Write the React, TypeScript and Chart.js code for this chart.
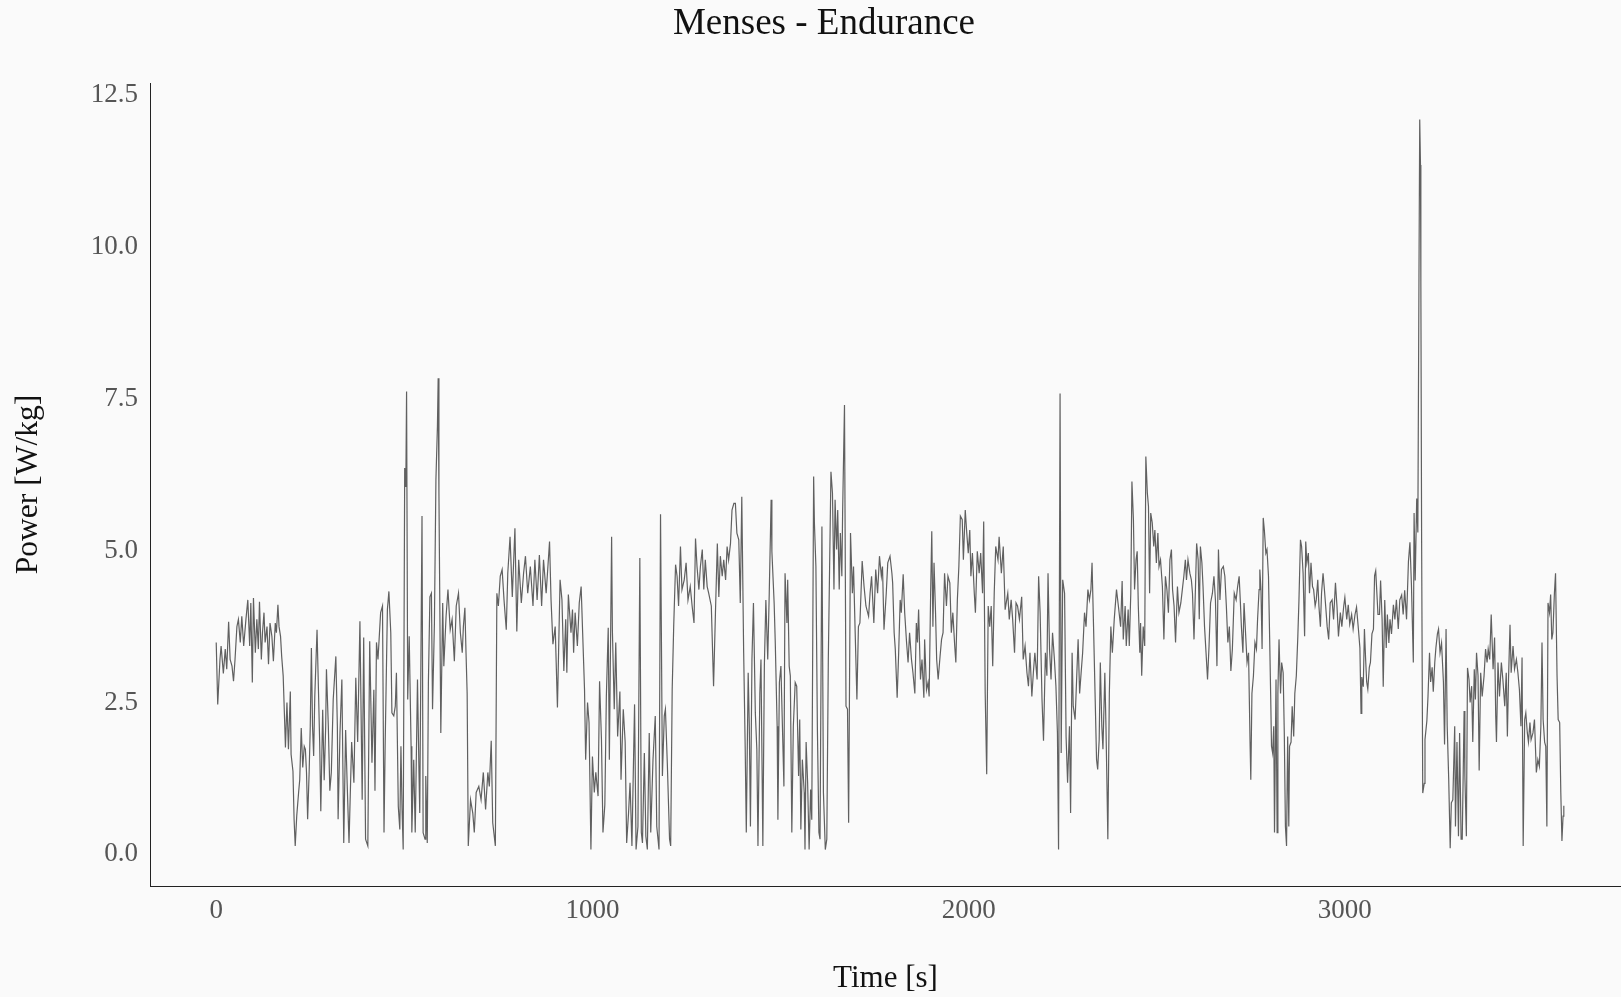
import { useEffect, useRef } from "react";
import { Chart, registerables } from "chart.js";

Chart.register(...registerables);

const TITLE = "Menses - Endurance";
const X_LABEL = "Time [s]";
const Y_LABEL = "Power [W/kg]";

const X_TICKS = [0, 1000, 2000, 3000];
const Y_TICKS = [0, 2.5, 5, 7.5, 10, 12.5];

const TIME_S = [
  0, 4, 10, 13, 19, 24, 28, 33, 37, 42,
  46, 50, 55, 59, 64, 68, 73, 79, 84, 89,
  92, 96, 99, 104, 108, 112, 115, 120, 123, 127,
  130, 135, 139, 143, 148, 152, 157, 160, 164, 167,
  171, 174, 178, 182, 184, 188, 192, 197, 199, 204,
  207, 210, 214, 219, 222, 226, 230, 234, 237, 240,
  243, 247, 250, 253, 256, 259, 262, 268, 272, 275,
  278, 283, 287, 291, 293, 298, 302, 306, 311, 318,
  322, 324, 329, 334, 339, 344, 348, 353, 360, 366,
  371, 376, 382, 388, 392, 397, 403, 408, 414, 419,
  422, 426, 430, 433, 437, 442, 446, 449, 455, 459,
  464, 467, 472, 476, 479, 484, 488, 491, 494, 497,
  501, 504, 506, 509, 513, 518, 520, 525, 529, 535,
  539, 541, 547, 550, 555, 557, 561, 564, 568, 572,
  575, 580, 584, 588, 590, 592, 597, 602, 605, 611,
  616, 622, 627, 633, 638, 644, 649, 654, 657, 661,
  664, 667, 670, 676, 682, 686, 691, 698, 704, 710,
  716, 722, 726, 731, 735, 742, 746, 750, 755, 760,
  765, 771, 775, 781, 787, 794, 799, 804, 811, 817,
  822, 828, 835, 842, 847, 853, 859, 865, 870, 877,
  886, 890, 895, 901, 907, 910, 914, 919, 924, 929,
  932, 936, 943, 947, 950, 954, 960, 965, 970, 974,
  979, 982, 987, 991, 996, 1000, 1005, 1009, 1015, 1019,
  1024, 1028, 1033, 1037, 1042, 1045, 1051, 1053, 1058, 1062,
  1067, 1073, 1076, 1082, 1087, 1091, 1096, 1100, 1105, 1112,
  1116, 1121, 1126, 1130, 1133, 1138, 1142, 1146, 1151, 1155,
  1161, 1167, 1171, 1177, 1181, 1186, 1191, 1194, 1199, 1205,
  1208, 1212, 1216, 1221, 1225, 1229, 1234, 1238, 1244, 1249,
  1254, 1260, 1265, 1270, 1274, 1278, 1283, 1287, 1292, 1296,
  1300, 1305, 1309, 1316, 1322, 1327, 1332, 1336, 1340, 1345,
  1349, 1354, 1358, 1362, 1367, 1371, 1376, 1380, 1384, 1389,
  1393, 1397, 1402, 1406, 1409, 1414, 1417, 1420, 1424, 1428,
  1433, 1437, 1440, 1445, 1448, 1453, 1457, 1461, 1466, 1470,
  1475, 1477, 1483, 1486, 1491, 1493, 1497, 1501, 1505, 1509,
  1512, 1517, 1519, 1523, 1526, 1530, 1534, 1539, 1543, 1548,
  1551, 1554, 1558, 1563, 1565, 1568, 1572, 1576, 1580, 1583,
  1588, 1590, 1594, 1598, 1602, 1605, 1610, 1614, 1619, 1623,
  1627, 1634, 1638, 1642, 1645, 1649, 1652, 1656, 1659, 1663,
  1665, 1670, 1674, 1678, 1681, 1686, 1691, 1694, 1698, 1703,
  1707, 1711, 1717, 1722, 1727, 1734, 1738, 1742, 1748, 1753,
  1758, 1763, 1768, 1771, 1775, 1781, 1785, 1791, 1796, 1798,
  1802, 1805, 1810, 1814, 1818, 1821, 1826, 1830, 1835, 1839,
  1843, 1848, 1852, 1857, 1861, 1864, 1867, 1872, 1876, 1881,
  1883, 1888, 1892, 1895, 1899, 1902, 1905, 1908, 1912, 1915,
  1919, 1924, 1928, 1932, 1936, 1941, 1945, 1950, 1954, 1958,
  1963, 1966, 1970, 1974, 1978, 1983, 1986, 1991, 1995, 1999,
  2003, 2006, 2010, 2015, 2018, 2023, 2028, 2032, 2037, 2040,
  2044, 2048, 2052, 2056, 2060, 2064, 2068, 2072, 2078, 2081,
  2087, 2092, 2097, 2104, 2108, 2113, 2117, 2122, 2126, 2130,
  2135, 2141, 2145, 2150, 2155, 2159, 2163, 2168, 2172, 2176,
  2182, 2186, 2190, 2195, 2199, 2204, 2208, 2211, 2215, 2219,
  2223, 2228, 2232, 2236, 2239, 2243, 2246, 2250, 2255, 2259,
  2263, 2268, 2271, 2275, 2278, 2283, 2287, 2291, 2295, 2299,
  2303, 2308, 2312, 2317, 2321, 2325, 2328, 2332, 2336, 2340,
  2343, 2347, 2350, 2354, 2357, 2362, 2365, 2368, 2370, 2374,
  2378, 2382, 2387, 2393, 2398, 2404, 2408, 2411, 2416, 2419,
  2424, 2427, 2431, 2434, 2438, 2441, 2445, 2448, 2451, 2455,
  2457, 2460, 2464, 2468, 2471, 2475, 2478, 2481, 2484, 2488,
  2492, 2495, 2499, 2503, 2506, 2510, 2515, 2519, 2523, 2527,
  2531, 2535, 2539, 2542, 2546, 2550, 2555, 2559, 2564, 2568,
  2572, 2576, 2579, 2583, 2588, 2592, 2595, 2599, 2603, 2606,
  2610, 2613, 2616, 2620, 2623, 2627, 2631, 2635, 2639, 2643,
  2648, 2652, 2656, 2660, 2664, 2668, 2672, 2677, 2681, 2685,
  2689, 2693, 2697, 2701, 2706, 2711, 2715, 2719, 2722, 2725,
  2729, 2732, 2736, 2740, 2744, 2748, 2750, 2753, 2757, 2761,
  2765, 2768, 2772, 2774, 2777, 2780, 2783, 2786, 2790, 2793,
  2797, 2800, 2803, 2805, 2808, 2811, 2813, 2817, 2820, 2822,
  2825, 2829, 2832, 2836, 2839, 2842, 2845, 2848, 2851, 2853,
  2857, 2860, 2864, 2867, 2871, 2875, 2878, 2882, 2885, 2889,
  2893, 2896, 2899, 2903, 2906, 2910, 2914, 2917, 2921, 2924,
  2928, 2931, 2935, 2938, 2942, 2945, 2949, 2953, 2957, 2961,
  2966, 2970, 2975, 2979, 2983, 2988, 2992, 2997, 3000, 3005,
  3009, 3013, 3018, 3022, 3027, 3031, 3036, 3040, 3043, 3045,
  3049, 3052, 3055, 3058, 3061, 3065, 3068, 3072, 3076, 3079,
  3082, 3084, 3088, 3092, 3095, 3099, 3102, 3106, 3110, 3113,
  3117, 3120, 3124, 3129, 3133, 3137, 3142, 3146, 3151, 3155,
  3159, 3164, 3169, 3173, 3177, 3182, 3184, 3187, 3191, 3194,
  3197, 3199, 3201, 3202, 3204, 3207, 3211, 3213, 3218, 3221,
  3225, 3228, 3232, 3235, 3239, 3242, 3246, 3249, 3253, 3257,
  3262, 3265, 3269, 3272, 3276, 3280, 3283, 3287, 3292, 3294,
  3298, 3302, 3305, 3309, 3312, 3317, 3319, 3323, 3326, 3330,
  3333, 3337, 3340, 3344, 3347, 3350, 3354, 3357, 3361, 3365,
  3370, 3374, 3378, 3381, 3385, 3389, 3394, 3398, 3401, 3403,
  3407, 3411, 3416, 3420, 3425, 3429, 3432, 3435, 3439, 3442,
  3447, 3451, 3456, 3460, 3464, 3468, 3471, 3474, 3478, 3481,
  3485, 3488, 3492, 3495, 3500, 3504, 3509, 3513, 3517, 3521,
  3524, 3527, 3531, 3534, 3537, 3540, 3544, 3547, 3550, 3553,
  3557, 3560, 3564, 3567, 3571, 3574, 3577, 3580, 3582,
];

const POWER_WKG = [
  3.44, 2.42, 3.16, 3.38, 2.93, 3.33, 3.0, 3.78, 3.16, 3.05,
  2.8, 3.16, 3.7, 3.82, 3.44, 3.87, 3.38, 3.82, 4.14, 3.38,
  4.09, 2.78, 4.17, 3.27, 3.82, 3.33, 4.11, 3.16, 3.6, 3.93,
  3.44, 3.7, 3.08, 3.76, 3.54, 3.13, 3.76, 3.6, 4.06, 3.7,
  3.54, 3.21, 2.89, 2.12, 1.71, 2.45, 1.68, 2.63, 1.6, 1.32,
  0.53, 0.09, 0.58, 0.97, 1.18, 2.03, 1.38, 1.73, 1.68, 1.3,
  0.53, 1.3, 2.06, 3.35, 2.06, 1.57, 2.55, 3.65, 2.6, 1.8,
  0.66, 2.33, 1.17, 2.06, 3.0, 2.06, 1.0, 1.3, 2.5, 3.21,
  2.06, 0.53, 1.95, 2.83, 0.14, 2.0, 1.13, 0.14, 1.8, 1.13,
  2.86, 1.8, 3.79, 0.85, 3.52, 0.2, 0.09, 3.46, 1.46, 2.66,
  1.0, 3.44, 3.16, 3.49, 3.93, 4.04, 0.31, 1.73, 3.98, 4.28,
  3.6, 2.28, 2.23, 2.39, 2.94, 0.74, 0.36, 1.73, 0.69, 0.03,
  6.31, 6.0, 7.57, 2.5, 3.54, 1.73, 0.31, 1.51, 0.31, 2.83,
  1.3, 0.63, 5.52, 0.31, 0.2, 1.24, 0.14, 2.78, 4.19, 4.25,
  2.34, 3.76, 6.12, 7.0, 7.79, 5.9, 1.95, 4.09, 3.05, 3.87,
  4.31, 3.65, 3.82, 3.13, 4.04, 4.25, 3.6, 3.27, 3.7, 4.01,
  3.27, 2.6, 0.09, 0.85, 0.63, 0.31, 0.97, 1.07, 0.85, 1.3,
  0.69, 1.3, 1.07, 1.82, 0.47, 0.09, 4.25, 4.04, 4.53, 4.64,
  4.14, 3.65, 4.58, 5.18, 4.19, 5.32, 3.62, 4.8, 4.09, 4.58,
  4.86, 4.25, 4.69, 4.04, 4.8, 4.14, 4.88, 4.04, 4.8, 4.25,
  5.1, 4.14, 3.41, 3.7, 2.37, 3.27, 4.47, 4.14, 2.97, 3.82,
  2.94, 4.23, 3.6, 3.98, 3.27, 3.93, 3.38, 4.09, 4.36, 3.6,
  2.66, 1.51, 2.45, 2.12, 0.03, 1.56, 0.97, 1.3, 0.91, 2.8,
  1.84, 0.31, 0.77, 2.55, 3.68, 1.51, 5.18, 3.65, 2.34, 3.44,
  1.89, 2.63, 1.18, 2.34, 1.8, 0.14, 0.63, 1.13, 0.09, 2.42,
  0.03, 0.41, 4.83, 0.31, 0.14, 1.62, 0.25, 0.03, 1.95, 0.31,
  1.51, 2.23, 0.41, 0.03, 5.55, 1.24, 2.23, 2.34, 1.46, 0.2,
  0.09, 2.66, 3.7, 4.72, 4.53, 4.04, 5.02, 4.31, 4.47, 4.75,
  4.14, 4.36, 4.04, 3.76, 5.15, 4.69, 4.31, 4.69, 4.97, 4.31,
  4.8, 4.36, 4.25, 4.04, 2.72, 3.93, 5.07, 4.19, 4.86, 4.53,
  4.8, 4.47, 5.02, 4.8, 5.07, 5.62, 5.73, 5.73, 5.24, 5.13,
  4.09, 5.84, 3.27, 1.73, 0.31, 2.94, 2.06, 0.41, 3.16, 4.09,
  2.28, 1.68, 0.09, 2.6, 3.16, 0.09, 3.05, 4.14, 3.16, 4.25,
  5.79, 4.94, 4.09, 3.44, 2.06, 0.52, 2.78, 3.05, 2.06, 1.07,
  4.58, 3.76, 4.47, 3.05, 2.89, 0.31, 2.06, 2.78, 2.72, 1.24,
  2.17, 0.36, 1.51, 0.97, 0.03, 1.8, 1.13, 0.03, 1.02, 0.52,
  6.17, 5.41, 4.69, 2.0, 0.31, 0.2, 5.35, 0.97, 0.03, 0.2,
  3.16, 6.25, 5.9, 4.31, 5.79, 4.97, 5.62, 4.31, 5.24, 4.53,
  5.57, 7.35, 2.39, 2.34, 0.47, 5.24, 4.25, 4.69, 3.7, 2.5,
  3.7, 3.76, 4.78, 4.36, 4.04, 3.87, 4.25, 4.53, 3.76, 4.64,
  4.25, 4.86, 4.53, 4.69, 3.65, 4.25, 4.75, 4.86, 4.58, 4.42,
  3.6, 3.33, 2.53, 3.27, 4.14, 3.93, 4.56, 3.93, 3.44, 3.11,
  3.6, 3.16, 2.94, 2.6, 3.76, 3.44, 3.98, 2.83, 3.16, 2.53,
  3.49, 2.66, 2.78, 2.55, 4.25, 5.27, 3.7, 4.75, 3.93, 3.16,
  2.83, 3.21, 3.49, 3.6, 4.58, 4.04, 4.53, 4.42, 3.6, 3.93,
  3.38, 3.11, 4.14, 4.69, 5.52, 5.46, 4.8, 5.62, 5.24, 4.91,
  5.29, 4.53, 4.91, 4.25, 3.93, 4.94, 4.58, 4.91, 4.25, 5.43,
  2.6, 1.27, 4.04, 3.7, 4.04, 3.05, 4.25, 5.02, 4.8, 5.18,
  4.58, 5.02, 3.98, 4.25, 3.82, 4.14, 3.82, 3.27, 4.09, 4.04,
  3.82, 4.19, 3.16, 3.38, 2.94, 2.72, 3.27, 2.55, 2.94, 3.27,
  2.83, 4.53, 3.93, 2.5, 1.82, 3.27, 2.89, 4.58, 3.33, 2.83,
  3.6, 3.16, 2.72, 1.95, 0.03, 7.54, 1.62, 4.47, 4.25, 1.89,
  1.13, 2.06, 0.63, 3.27, 2.39, 2.17, 2.83, 3.49, 2.6, 2.94,
  3.27, 3.93, 3.7, 4.31, 4.14, 4.31, 4.75, 3.7, 2.6, 1.51,
  1.35, 1.84, 3.11, 2.06, 1.68, 2.94, 2.06, 0.97, 0.2, 2.6,
  3.7, 3.27, 3.82, 4.31, 4.04, 3.7, 4.45, 3.49, 4.04, 3.38,
  3.98, 3.38, 4.25, 6.09, 5.46, 4.31, 4.8, 4.94, 4.04, 3.27,
  3.76, 2.89, 3.7, 3.38, 6.5, 5.9, 5.68, 4.25, 5.57, 5.41,
  5.02, 5.29, 4.75, 5.24, 4.69, 4.8, 4.36, 3.49, 4.53, 4.31,
  3.93, 4.8, 4.97, 4.31, 4.04, 3.44, 4.36, 3.93, 4.09, 4.31,
  4.53, 4.8, 4.47, 4.8, 4.58, 4.47, 4.25, 3.49, 4.36, 5.07,
  4.8, 3.82, 5.02, 4.75, 4.36, 3.7, 3.27, 2.83, 3.38, 4.09,
  4.25, 4.53, 4.14, 3.05, 4.97, 4.14, 4.64, 4.69, 4.53, 4.04,
  3.44, 3.7, 2.97, 3.33, 4.25, 4.14, 4.36, 4.53, 4.14, 3.7,
  3.27, 4.09, 3.6, 3.11, 3.27, 1.8, 1.18, 2.6, 2.89, 3.44,
  3.33, 3.82, 4.31, 4.64, 4.31, 3.33, 5.49, 5.29, 4.91, 4.97,
  4.53, 3.54, 2.5, 1.73, 1.62, 2.06, 0.31, 2.83, 0.31, 2.6,
  3.49, 2.6, 3.11, 2.94, 1.95, 0.41, 0.09, 1.89, 0.41, 1.73,
  1.8, 2.39, 1.89, 2.6, 2.89, 3.54, 4.14, 5.13, 5.02, 4.58,
  3.54, 5.1, 4.75, 4.91, 4.25, 4.75, 4.36, 4.31, 4.04, 4.14,
  4.47, 4.04, 3.7, 4.25, 4.58, 4.36, 4.04, 3.7, 3.49, 4.09,
  4.14, 3.82, 4.42, 4.04, 3.54, 3.93, 3.7, 4.04, 4.18, 3.82,
  4.06, 3.74, 3.9, 3.66, 3.9, 4.02, 3.66, 3.35, 2.27, 2.87,
  2.71, 3.66, 3.19, 2.79, 2.67, 3.03, 3.11, 3.58, 3.66, 4.54,
  4.62, 4.38, 3.9, 3.9, 4.46, 3.82, 2.71, 4.14, 3.35, 3.9,
  3.43, 3.82, 3.58, 4.06, 3.82, 4.14, 3.66, 4.14, 4.22, 3.9,
  4.3, 3.82, 4.77, 5.09, 4.38, 3.11, 5.57, 4.46, 5.81, 5.25,
  9.46, 12.05, 11.3, 9.38, 5.17, 0.96, 1.12, 1.84, 2.15, 2.55,
  3.27, 2.79, 3.03, 2.63, 3.11, 3.35, 3.58, 3.66, 3.27, 3.43,
  2.79, 1.76, 3.66, 2.07, 1.2, 0.05, 0.8, 0.85, 2.06, 0.41,
  1.8, 0.25, 1.95, 0.2, 0.2, 2.31, 1.24, 0.25, 3.02, 2.83,
  2.45, 2.72, 1.8, 3.0, 2.5, 3.27, 2.89, 1.33, 2.94, 2.55,
  2.89, 3.33, 3.11, 3.33, 3.16, 3.9, 3.0, 3.52, 2.23, 1.8,
  3.11, 2.55, 3.11, 2.83, 2.39, 2.94, 1.89, 2.83, 3.73, 2.94,
  3.38, 3.0, 3.16, 2.94, 2.66, 2.06, 3.19, 0.09, 2.17, 2.28,
  1.95, 1.8, 2.12, 1.84, 1.95, 2.17, 1.3, 1.51, 1.4, 2.06,
  3.44, 2.17, 1.8, 1.73, 0.41, 4.09, 3.93, 4.23, 3.49, 3.6,
  4.25, 4.58, 2.89, 2.17, 2.12, 0.97, 0.17, 0.58, 0.75,
];

const FONT = "'Liberation Serif', 'Times New Roman', serif";

const figureTitle = {
  id: "figureTitle",
  afterDraw(chart: any) {
    const ctx = chart.ctx;
    ctx.save();
    ctx.font = `normal 37px ${FONT}`;
    ctx.fillStyle = "#111111";
    ctx.textAlign = "center";
    ctx.textBaseline = "middle";
    ctx.fillText(TITLE, 824, 24);
    ctx.restore();
  },
};

export default function App() {
  const ref = useRef<HTMLCanvasElement>(null);

  useEffect(() => {
    document.body.style.margin = "0";
    const points = TIME_S.map((t, i) => ({ x: t, y: POWER_WKG[i] }));
    const chart = new Chart(ref.current as HTMLCanvasElement, {
      type: "line",
      data: {
        datasets: [
          {
            data: points,
            borderColor: "#606060",
            borderWidth: 1.2,
            pointRadius: 0,
            tension: 0,
            fill: false,
          },
        ],
      },
      plugins: [figureTitle],
      options: {
        responsive: false,
        animation: false,
        layout: { padding: { top: 83, left: 0, right: 0, bottom: 0 } },
        plugins: {
          legend: { display: false },
          tooltip: { enabled: false },
          title: { display: false },
        },
        scales: {
          x: {
            type: "linear",
            min: -176,
            max: 3734,
            afterBuildTicks: (s: any) => {
              s.ticks = X_TICKS.map((v) => ({ value: v }));
            },
            afterFit: (s: any) => {
              s.height = 111;
            },
            grid: { display: false, drawTicks: false },
            border: { display: true, color: "#222222", width: 1 },
            ticks: {
              padding: 9,
              color: "#555555",
              font: { family: FONT, size: 27 },
              maxRotation: 0,
              callback: (v: any) => String(v),
            },
            title: {
              display: true,
              text: X_LABEL,
              color: "#111111",
              font: { family: FONT, size: 31 },
              padding: { top: 0, bottom: 0 },
            },
          },
          y: {
            type: "linear",
            min: -0.57,
            max: 12.65,
            afterBuildTicks: (s: any) => {
              s.ticks = Y_TICKS.map((v) => ({ value: v }));
            },
            afterFit: (s: any) => {
              s.width = 150;
            },
            grid: { display: false, drawTicks: false },
            border: { display: true, color: "#222222", width: 1 },
            ticks: {
              padding: 12,
              labelOffset: 3,
              color: "#555555",
              font: { family: FONT, size: 27 },
              callback: (v: any) => Number(v).toFixed(1),
            },
            title: {
              display: true,
              text: Y_LABEL,
              color: "#111111",
              font: { family: FONT, size: 31.5 },
              padding: { top: 10, bottom: 0 },
            },
          },
        },
      },
    } as any);
    return () => chart.destroy();
  }, []);

  return (
    <div
      style={{
        position: "fixed",
        left: 0,
        top: 0,
        width: 1621,
        height: 997,
        background: "#fafafa",
      }}
    >
      <canvas ref={ref} width={1621} height={997} style={{ display: "block" }} />
    </div>
  );
}
